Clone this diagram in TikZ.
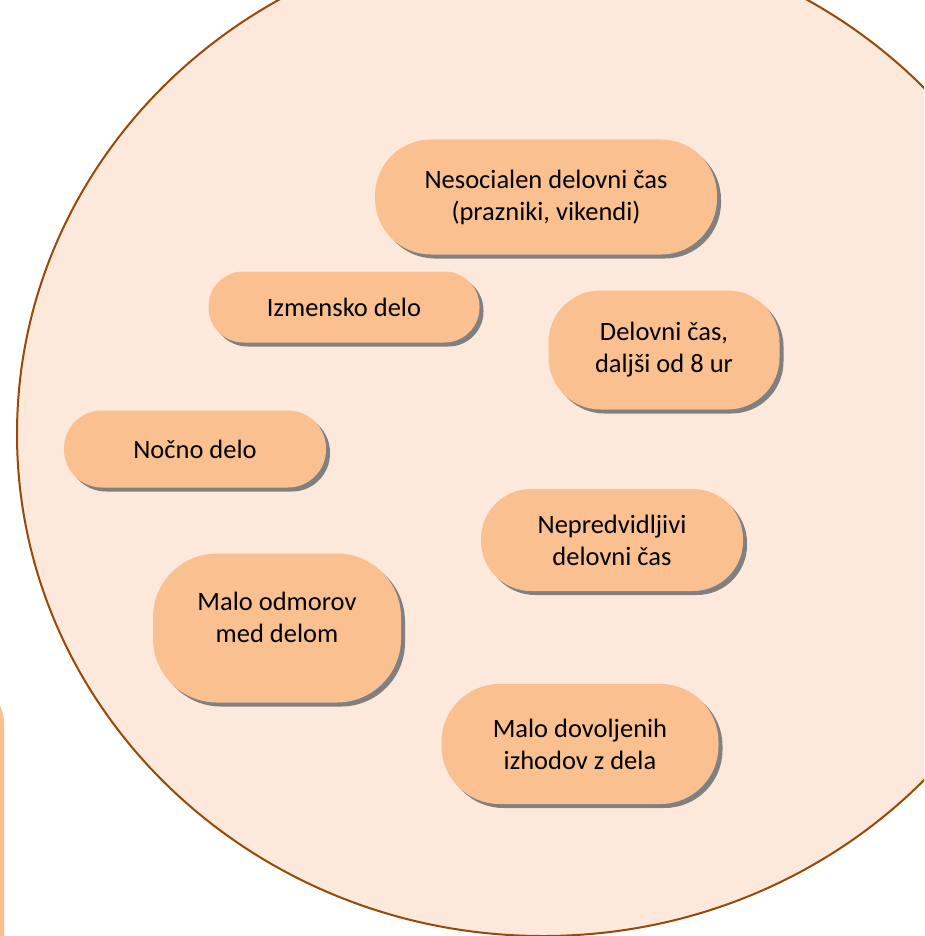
\documentclass[tikz,border=0pt]{standalone}
\usepackage{fontspec}
\setmainfont{Carlito}
\usetikzlibrary{shadows}
\definecolor{circlefill}{RGB}{252,233,219}
\definecolor{circleline}{RGB}{152,72,7}
\definecolor{boxorange}{RGB}{250,192,144}
\definecolor{shadowgray}{RGB}{128,128,128}

\begin{document}
\begin{tikzpicture}[x=1pt, y=-1pt,
  factor/.style={fill=boxorange, inner sep=0pt, align=center,
    font=\fontsize{26.5}{32}\selectfont,
    drop shadow={shadow xshift=4pt, shadow yshift=-4pt, fill=shadowgray, opacity=1}}]
\useasboundingbox (0,0) rectangle (924,936);
\clip (0,0) rectangle (924,936);

% Big circle
\draw[fill=circlefill, draw=circleline, line width=2pt] (543,434) ellipse (526pt and 502pt);

% Box cut off at the left edge
\fill[boxorange, rounded corners=40pt] (-300,683) rectangle (4,1000);

% Factors
\node[factor, minimum width=342pt, minimum height=115pt, rounded corners=56pt] (unsocial) at (546,197)
  {Nesocialen delovni čas\\(prazniki, vikendi)};
\node[factor, minimum width=271pt, minimum height=71pt, rounded corners=35pt] (shifts) at (344,307)
  {Izmensko delo};
\node[factor, minimum width=231pt, minimum height=119pt, rounded corners=52pt] (longhours) at (664,350)
  {Delovni čas,\\daljši od 8 ur};
\node[factor, minimum width=262pt, minimum height=77pt, rounded corners=38pt] (night) at (195,449)
  {Nočno delo};
\node[factor, minimum width=262pt, minimum height=102pt, rounded corners=50pt] (unpredictable) at (612,540)
  {Nepredvidljivi\\delovni čas};
\node[factor, minimum width=248pt, minimum height=149pt, rounded corners=64pt, text depth=22pt] (fewbreaks) at (277,628)
  {Malo odmorov\\med delom};
\node[factor, minimum width=277pt, minimum height=120pt, rounded corners=58pt] (fewexits) at (580,744)
  {Malo dovoljenih\\izhodov z dela};
\end{tikzpicture}
\end{document}
